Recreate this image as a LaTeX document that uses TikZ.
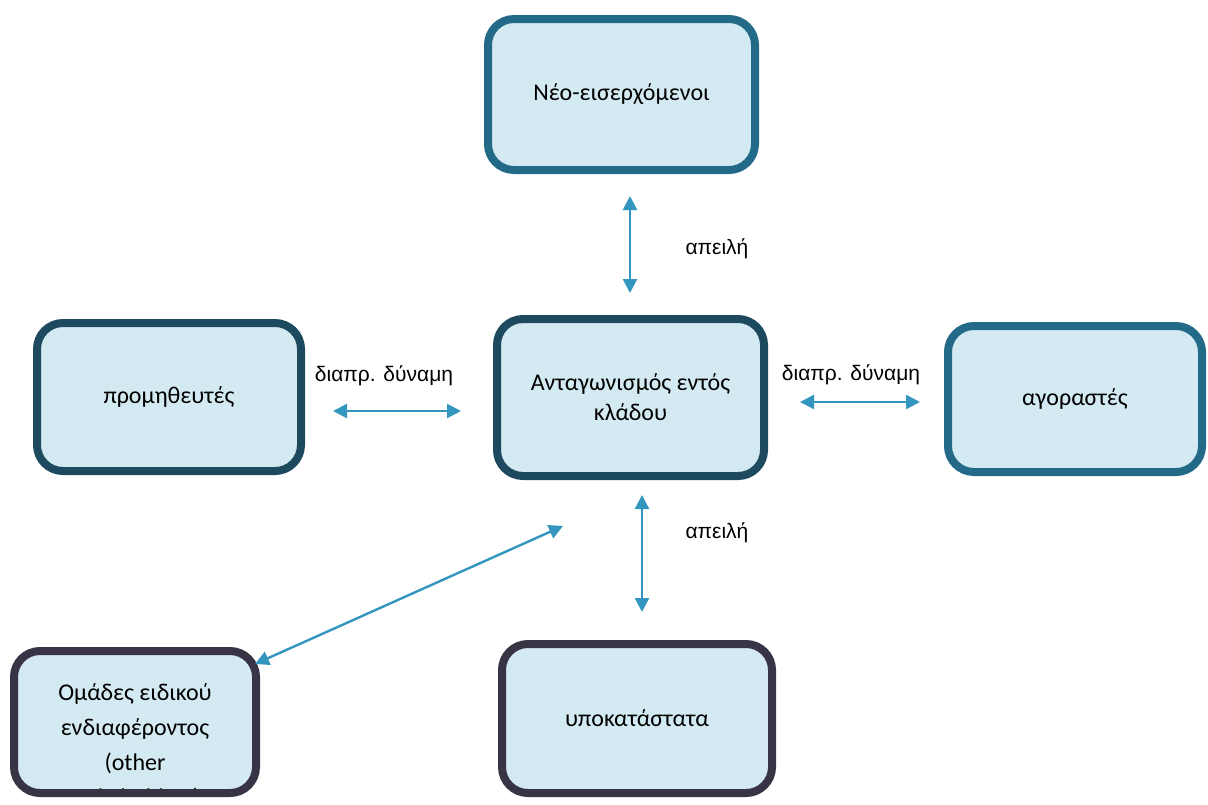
\documentclass[tikz,border=0pt]{standalone}
\usepackage{fontspec}
\setmainfont{Carlito}
\newfontfamily\labelfont{Liberation Sans}
\usetikzlibrary{arrows.meta}

\definecolor{boxfill}{HTML}{D3EAF2}
\definecolor{tealline}{HTML}{236A89}
\definecolor{navyline}{HTML}{1D4A5E}
\definecolor{greyline}{HTML}{383446}
\definecolor{arrowblue}{HTML}{3396BF}

\tikzset{
  force/.style={draw, line width=8pt, fill=boxfill, rounded corners=26pt,
    align=center, font=\fontsize{24}{30}\selectfont},
  link/.style={arrowblue, line width=2.4pt,
    {Triangle[length=14pt,width=14pt]}-{Triangle[length=14pt,width=14pt]}},
  linklabel/.style={font=\labelfont\fontsize{21}{24}\selectfont}
}

\begin{document}
\begin{tikzpicture}[x=1pt,y=-1pt]
\useasboundingbox (0,0) rectangle (1208,804);

% five forces
\node[force, draw=tealline, minimum width=267pt, minimum height=151pt] (entrants) at (621.5,94.5) {Νέο-εισερχόμενοι};
\node[force, draw=navyline, minimum width=267pt, minimum height=157pt] (rivalry) at (630.5,397.5) {Ανταγωνισμός εντός\\κλάδου};
\node[force, draw=navyline, minimum width=264pt, minimum height=148pt] (suppliers) at (169,397) {προμηθευτές};
\node[force, draw=tealline, minimum width=254pt, minimum height=146pt] (buyers) at (1075,399) {αγοραστές};
\node[force, draw=greyline, minimum width=270pt, minimum height=149pt] (substitutes) at (637,718.5) {υποκατάστατα};
\node[force, draw=greyline, minimum width=242pt, minimum height=142pt,
  path picture={\node[align=center, font=\fontsize{24}{35}\selectfont]
    at ([yshift=-24pt]path picture bounding box.center)
    {Ομάδες ειδικού\\ενδιαφέροντος\\(other\\stakeholders)};}] (groups) at (135,722) {};

% free ends of the arrows
\coordinate (e1) at (630,196);
\coordinate (e2) at (630,293);
\coordinate (s1) at (333,411);
\coordinate (s2) at (461,411);
\coordinate (b1) at (800,402);
\coordinate (b2) at (920,402);
\coordinate (u1) at (642,495);
\coordinate (u2) at (642,612);
\coordinate (g1) at (563,526);
\coordinate (g2) at (255,664);

\draw[link] (e1) -- (e2);
\draw[link] (s1) -- (s2);
\draw[link] (b1) -- (b2);
\draw[link] (u1) -- (u2);
\draw[link] (g1) -- (g2);

\node[linklabel] (threat1) at (717,249) {απειλή};
\node[linklabel] (threat2) at (717,533) {απειλή};
\node[linklabel] (power1) at (384,376) {διαπρ. δύναμη};
\node[linklabel] (power2) at (851,375) {διαπρ. δύναμη};
\end{tikzpicture}
\end{document}
